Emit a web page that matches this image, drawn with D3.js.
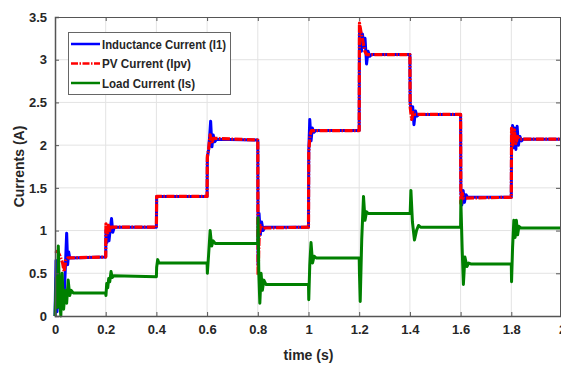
<!DOCTYPE html>
<html>
<head>
<meta charset="utf-8">
<script src="https://d3js.org/d3.v7.min.js"></script>
<style>
  body { margin: 0; background: #fff; }
  svg { display: block; }
  text { font-family: "Liberation Sans", Arial, sans-serif; font-weight: bold; fill: #262626; }
  .grid line { stroke: #e3e3e3; stroke-width: 1; }
  .axis path, .axis line { stroke: #555; }
  .axis text { font-size: 13px; }
</style>
</head>
<body>
<script>
// x ticks / y ticks
var xTicks = [0, 0.2, 0.4, 0.6, 0.8, 1, 1.2, 1.4, 1.6, 1.8, 2];
var yTicks = [0, 0.5, 1, 1.5, 2, 2.5, 3, 3.5];
var seriesNames = ["Inductance Current (I1)", "PV Current (Ipv)", "Load Current (Is)"];

// Inductance current I1 (blue)
var iL_t = [0, 0.004, 0.008, 0.012, 0.016, 0.02, 0.025, 0.03, 0.035, 0.04, 0.046, 0.05, 0.054, 0.058, 0.2,
  0.201, 0.205, 0.209, 0.213, 0.218, 0.223, 0.228, 0.234, 0.4, 0.401, 0.6,
  0.601, 0.606, 0.61, 0.614, 0.619, 0.624, 0.63, 0.638, 0.8,
  0.801, 0.805, 0.81, 0.815, 0.821, 0.828, 1.0,
  1.001, 1.005, 1.01, 1.015, 1.021, 1.028, 1.2,
  1.201, 1.205, 1.209, 1.213, 1.218, 1.223, 1.229, 1.235, 1.241, 1.248, 1.4,
  1.401, 1.406, 1.411, 1.416, 1.422, 1.428, 1.436, 1.6,
  1.601, 1.605, 1.61, 1.615, 1.621, 1.628, 1.8,
  1.801, 1.805, 1.809, 1.813, 1.818, 1.823, 1.828, 1.834, 1.84, 1.848, 2.0];
var iL_v = [0, 0.65, 0.05, 0.55, 0.1, 0.4, 0.22, 0.35, 0.18, 0.5, 0.97, 0.6, 0.75, 0.68, 0.69,
  1.0, 0.86, 1.05, 0.88, 1.02, 1.14, 0.98, 1.04, 1.04, 1.4, 1.4,
  1.85, 1.95, 2.1, 2.28, 1.98, 2.12, 2.04, 2.07, 2.06,
  0.6, 1.2, 0.95, 1.1, 1.0, 1.04, 1.04,
  1.92, 2.3, 2.05, 2.2, 2.15, 2.17, 2.17,
  3.3, 3.36, 3.1, 3.3, 3.15, 3.25, 2.95, 3.1, 3.04, 3.06, 3.06,
  2.5, 2.38, 2.45, 2.24, 2.4, 2.34, 2.36, 2.36,
  1.45, 1.3, 1.47, 1.33, 1.42, 1.39, 1.39,
  2.05, 2.23, 1.97, 2.2, 1.95, 2.22, 2.0, 2.1, 2.05, 2.07, 2.07];

// PV current Ipv (red, dash-dot)
var ipv_t = [0, 0.012, 0.02, 0.03, 0.036, 0.042, 0.05, 0.2,
  0.201, 0.206, 0.211, 0.216, 0.222, 0.4, 0.401, 0.6,
  0.601, 0.606, 0.612, 0.618, 0.625, 0.8,
  0.801, 0.805, 0.81, 0.816, 1.0,
  1.001, 1.006, 1.012, 1.2,
  1.201, 1.207, 1.214, 1.222, 1.23, 1.4,
  1.401, 1.407, 1.413, 1.42, 1.6,
  1.601, 1.606, 1.612, 1.8,
  1.801, 1.806, 1.812, 1.818, 1.825, 1.832, 2.0];
var ipv_v = [0.76, 0.75, 0.7, 0.62, 0.52, 0.65, 0.68, 0.69,
  1.08, 0.95, 1.06, 1.0, 1.04, 1.04, 1.4, 1.4,
  1.87, 1.95, 2.12, 2.02, 2.08, 2.06,
  0.48, 0.9, 1.06, 1.03, 1.04,
  1.92, 2.12, 2.17, 2.17,
  3.43, 3.32, 3.22, 3.1, 3.06, 3.06,
  2.45, 2.3, 2.38, 2.36, 2.36,
  1.32, 1.44, 1.38, 1.39,
  2.2, 2.0, 2.18, 2.02, 2.1, 2.07, 2.07];

// Load current Is (green)
var is_t = [0, 0.005, 0.009, 0.013, 0.018, 0.023, 0.028, 0.034, 0.04, 0.046, 0.052, 0.058, 0.064, 0.072, 0.2,
  0.201, 0.204, 0.208, 0.212, 0.216, 0.221, 0.226, 0.232, 0.4,
  0.401, 0.405, 0.41, 0.6,
  0.601, 0.606, 0.612, 0.618, 0.624, 0.632, 0.8,
  0.801, 0.804, 0.808, 0.813, 0.818, 0.824, 0.832, 1.0,
  1.001, 1.005, 1.01, 1.016, 1.022, 1.03, 1.2,
  1.201, 1.204, 1.21, 1.217, 1.223, 1.229, 1.236, 1.4,
  1.401, 1.404, 1.41, 1.418, 1.426, 1.434, 1.442, 1.6,
  1.601, 1.606, 1.611, 1.617, 1.625, 1.632, 1.64, 1.8,
  1.801, 1.805, 1.81, 1.815, 1.82, 1.825, 1.83, 1.838, 2.0];
var is_v = [0, 0.45, 0.1, 0.82, 0.2, 0.0, 0.5, 0.08, 0.3, 0.15, 0.42, 0.24, 0.3, 0.27, 0.27,
  0.24, 0.38, 0.33, 0.44, 0.4, 0.52, 0.45, 0.47, 0.46,
  0.57, 0.66, 0.62, 0.62,
  0.5, 0.72, 1.0, 0.82, 0.88, 0.85, 0.85,
  1.15, 0.5, 0.15, 0.5, 0.3, 0.42, 0.37, 0.37,
  0.19, 0.6, 0.86, 0.62, 0.7, 0.68, 0.68,
  0.5, 0.17, 0.9, 1.4, 1.12, 1.22, 1.2, 1.2,
  1.2, 1.47, 1.1, 0.89, 1.0, 1.06, 1.04, 1.04,
  1.35, 0.8, 0.37, 0.69, 0.58, 0.62, 0.61, 0.61,
  0.4, 0.8, 1.12, 0.92, 1.12, 0.95, 1.05, 1.03, 1.03];

var W = 561, H = 365;
var pLeft = 55, pRight = 562, pTop = 17, pBottom = 316;

var svg = d3.select("body").append("svg")
  .attr("width", W).attr("height", H);

var x = d3.scaleLinear().domain([0, 2]).range([pLeft, pRight]);
var y = d3.scaleLinear().domain([0, 3.5]).range([pBottom, pTop]);

// grid
var grid = svg.append("g").attr("class", "grid");
grid.selectAll(".gx").data(xTicks.slice(1, -1)).enter().append("line")
  .attr("x1", d => x(d)).attr("x2", d => x(d))
  .attr("y1", pTop).attr("y2", pBottom);
grid.selectAll(".gy").data(yTicks.slice(1, -1)).enter().append("line")
  .attr("x1", pLeft).attr("x2", pRight)
  .attr("y1", d => y(d)).attr("y2", d => y(d));

// data lines
function pts(t, v) { return t.map((d, i) => [d, v[i]]); }
var line = d3.line().x(d => x(d[0])).y(d => y(d[1]));

svg.append("path").datum(pts(iL_t, iL_v))
  .attr("d", line).attr("fill", "none")
  .attr("stroke", "#0000ff").attr("stroke-width", 3).attr("stroke-linejoin", "round");
svg.append("path").datum(pts(ipv_t, ipv_v))
  .attr("d", line).attr("fill", "none")
  .attr("stroke", "#ff0000").attr("stroke-width", 3.2)
  .attr("stroke-dasharray", "8,1.5,1.5,1.5").attr("stroke-linejoin", "round");
svg.append("path").datum(pts(is_t, is_v))
  .attr("d", line).attr("fill", "none")
  .attr("stroke", "#008000").attr("stroke-width", 3).attr("stroke-linejoin", "round");

// axes
svg.append("g").attr("class", "axis")
  .attr("transform", "translate(0," + pBottom + ")")
  .call(d3.axisBottom(x).tickValues(xTicks).tickSize(-4).tickPadding(9).tickFormat(d3.format("")))
  .call(g => g.select(".domain").attr("stroke-width", 1.5));
svg.append("g").attr("class", "axis")
  .attr("transform", "translate(" + pLeft + ",0)")
  .call(d3.axisLeft(y).tickValues(yTicks).tickSize(-4).tickPadding(8).tickFormat(d3.format("")))
  .call(g => g.select(".domain").attr("stroke-width", 1.5));
svg.append("g").attr("class", "axis")
  .attr("transform", "translate(0," + pTop + ")")
  .call(d3.axisTop(x).tickValues(xTicks).tickSize(-4).tickFormat(""))
  .call(g => g.select(".domain").attr("stroke", "#999"));
svg.append("g").attr("class", "axis")
  .attr("transform", "translate(" + (pRight - 2) + ",0)")
  .call(d3.axisRight(y).tickValues(yTicks).tickSize(-4).tickFormat(""))
  .call(g => g.select(".domain").attr("stroke", "none"));

// axis labels
svg.append("text").attr("x", x(1)).attr("y", 360)
  .attr("text-anchor", "middle").style("font-size", "14px").text("time (s)");
svg.append("text").attr("transform", "translate(24," + ((pTop + pBottom) / 2) + ") rotate(-90)")
  .attr("text-anchor", "middle").style("font-size", "14px").text("Currents (A)");

// legend
var lg = svg.append("g");
lg.append("rect").attr("x", 68.5).attr("y", 32.5).attr("width", 162).attr("height", 62)
  .attr("fill", "#fff").attr("stroke", "#666").attr("stroke-width", 1);
var lgColors = ["#0000ff", "#ff0000", "#008000"];
var lgDash = [null, "7,1.5,1.5,1.5", null];
var lgWidths = [124, 89, 93];
seriesNames.forEach(function (name, i) {
  var yy = 44 + i * 19.5;
  lg.append("line").attr("x1", 71).attr("x2", 100).attr("y1", yy).attr("y2", yy)
    .attr("stroke", lgColors[i]).attr("stroke-width", 2.5)
    .attr("stroke-dasharray", lgDash[i]);
  lg.append("text").attr("x", 102).attr("y", yy + 4.5)
    .style("font-size", "12.5px")
    .attr("textLength", lgWidths[i]).attr("lengthAdjust", "spacingAndGlyphs")
    .text(name);
});
</script>
</body>
</html>
